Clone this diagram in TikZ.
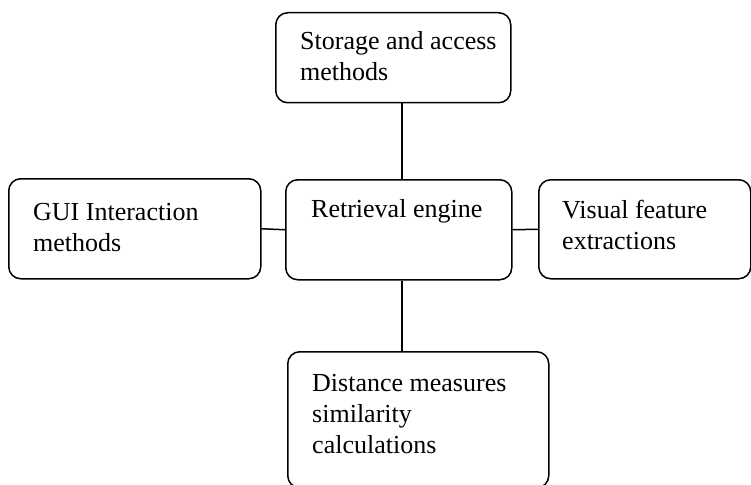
\documentclass[tikz,border=0pt]{standalone}
\usepackage{fontspec}
\setmainfont{Liberation Serif}
\newcommand\bxtext[1]{\parbox[t]{240pt}{\fontsize{26}{31}\selectfont\raggedright #1}}
\begin{document}
\begin{tikzpicture}[x=1pt,y=-1pt,
  box/.style={draw=black, line width=1.5pt, rounded corners=12pt, fill=white, inner sep=0pt, anchor=north west},
  lbl/.style={anchor=base west, inner sep=0pt},
  conn/.style={draw=black, line width=1.5pt}]
\useasboundingbox (0,0) rectangle (751,484);
\begin{scope}
\clip (0,0) rectangle (751,484);
\node[box, minimum width=235pt, minimum height=90pt] (store) at (275,12) {};
\node[box, minimum width=252pt, minimum height=100pt] (gui) at (8,178) {};
\node[box, minimum width=226pt, minimum height=100pt] (engine) at (285,179) {};
\node[box, minimum width=212pt, minimum height=99pt] (visual) at (538,179) {};
\node[box, minimum width=261pt, minimum height=136pt] (dist) at (287,351) {};
\end{scope}
\node[lbl] (storeT) at (300,50) {\bxtext{Storage and access\\methods}};
\node[lbl] (guiT) at (33,220) {\bxtext{GUI Interaction\\methods}};
\node[lbl] (engineT) at (311,217) {\bxtext{Retrieval engine}};
\node[lbl] (visualT) at (562,218) {\bxtext{Visual feature\\extractions}};
\node[lbl] (distT) at (312,391) {\bxtext{Distance measures\\similarity\\calculations}};
\coordinate (xline) at (402,0);
\draw[conn] (store.south -| xline) -- (engine.north -| xline);
\draw[conn] (engine.south -| xline) -- (dist.north -| xline);
\draw[conn] (gui.east) -- (engine.west);
\draw[conn] (engine.east) -- (visual.west);
\end{tikzpicture}
\end{document}
